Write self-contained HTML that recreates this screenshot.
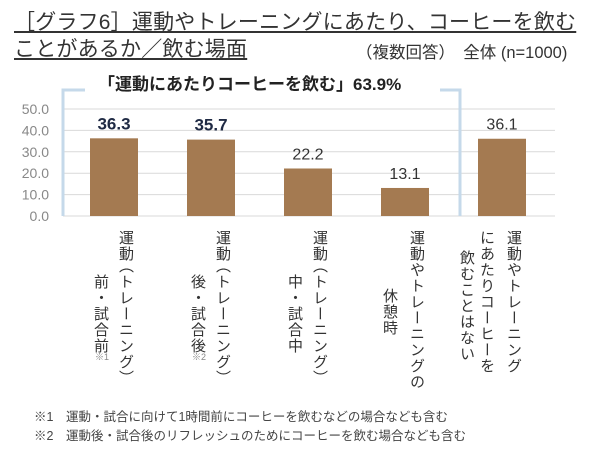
<!DOCTYPE html>
<html><head><meta charset="utf-8"><style>
body{margin:0;width:601px;height:457px;background:#fff;position:relative;overflow:hidden;font-family:"Liberation Sans","Noto Sans CJK JP",sans-serif;}
.a{position:absolute;white-space:nowrap;}
.v{position:absolute;writing-mode:vertical-rl;font-size:15px;color:#333;line-height:16px;letter-spacing:1px;}
</style></head><body>
<div class="a" style="left:14px;top:6px;font-size:21px;color:#333;text-decoration:underline;letter-spacing:0.2px">［グラフ6］運動やトレーニングにあたり、コーヒーを飲む</div>
<div class="a" style="left:14px;top:33px;font-size:21px;color:#333;text-decoration:underline;letter-spacing:0.2px">ことがあるか／飲む場面</div>
<div class="a" style="left:356px;top:39px;font-size:16.5px;color:#333">（複数回答）　全体 (n=1000)</div>
<div class="a" style="left:98px;top:70px;font-size:17px;font-weight:bold;color:#222">「運動にあたりコーヒーを飲む」63.9%</div>
<svg id="c" width="601" height="457" style="position:absolute;left:0;top:0"></svg>
<div class="a" style="left:34px;top:406px;font-size:12.5px;color:#444">※1　運動・試合に向けて1時間前にコーヒーを飲むなどの場合なども含む</div>
<div class="a" style="left:34px;top:425px;font-size:12.5px;color:#444">※2　運動後・試合後のリフレッシュのためにコーヒーを飲む場合なども含む</div>
<script>
const categories=["運動（トレーニング）前・試合前","運動（トレーニング）後・試合後","運動（トレーニング）中・試合中","運動やトレーニングの休憩時","運動やトレーニングにあたりコーヒーを飲むことはない"];
const values=[36.3,35.7,22.2,13.1,36.1];
const valueLabels=["36.3","35.7","22.2","13.1","36.1"];
const boldLabels=[true,true,false,false,false];
const ticks=[0,10,20,30,40,50];
const tickLabels=["0.0","10.0","20.0","30.0","40.0","50.0"];
const svg=document.getElementById('c');const NS="http://www.w3.org/2000/svg";
const y0=216,yTop=109,yMax=50;
const y=v=>y0-(v/yMax)*(y0-yTop);
const x=i=>114+i*97;
function mk(t,a){const e=document.createElementNS(NS,t);for(const k in a)e.setAttribute(k,a[k]);svg.appendChild(e);return e;}
ticks.forEach((t,i)=>{
 const g=mk('line',{x1:63,x2:555,y1:y(t),y2:y(t),stroke:'#d9d9d9','stroke-width':1});
 
 
 const l=mk('text',{x:49,y:y(t)+5,'text-anchor':'end','font-size':14,fill:'#888','font-family':'Liberation Sans'});
 l.textContent=tickLabels[i];
 
 
});
values.forEach((v,i)=>{
 const r=mk('rect',{x:x(i)-24,y:y(v),width:48,height:y0-y(v),fill:'#a47a51'});
 
 
 const t=mk('text',{x:x(i),y:y(v)-9,'text-anchor':'middle','font-size':boldLabels[i]?17:16,'font-weight':boldLabels[i]?'bold':'normal',fill:boldLabels[i]?'#1f2a44':'#333','font-family':'Liberation Sans'});
 t.textContent=valueLabels[i];
 
 
});
const br=mk('path',{d:'M85 90 H63 V216 M440 90 H460 V216',fill:'none',stroke:'#c5d9ea','stroke-width':3});


const cols=[
 [{t:"運動",dx:11,y:230},{t:"（トレーニング）",dx:11,y:258},{t:"前・試合前",dx:-14,y:274}],
 [{t:"運動",dx:11,y:230},{t:"（トレーニング）",dx:11,y:258},{t:"後・試合後",dx:-14,y:274}],
 [{t:"運動",dx:11,y:230},{t:"（トレーニング）",dx:11,y:258},{t:"中・試合中",dx:-14,y:274}],
 [{t:"運動やトレーニングの",dx:11,y:230},{t:"休憩時",dx:-16,y:288}],
 [{t:"運動やトレーニング",dx:11,y:230},{t:"にあたりコーヒーを",dx:-16,y:230},{t:"飲むことはない",dx:-36,y:250}]];
cols.forEach((cs,i)=>cs.forEach(c=>{
 const d=document.createElement('div');d.className='v';
 
 
 d.textContent=c.t;d.style.left=(x(i)+c.dx-8)+'px';d.style.top=c.y+'px';
 document.body.appendChild(d);
}));
[["※1",0],["※2",1]].forEach(([s,i])=>{
 const t=mk('text',{x:x(i)-12,y:360,'text-anchor':'middle','font-size':9,fill:'#888'});
 t.textContent=s;
 
 
});
</script>
</body></html>
